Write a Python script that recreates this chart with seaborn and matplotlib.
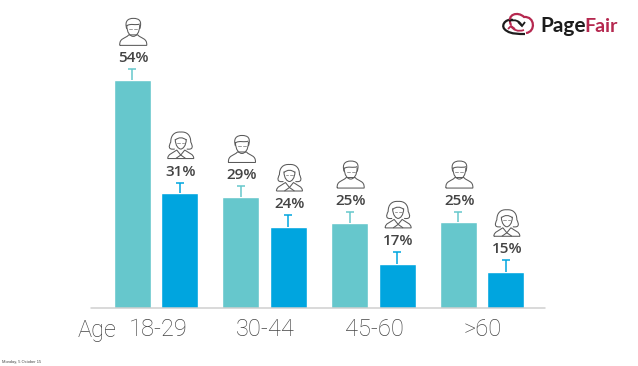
import matplotlib
matplotlib.use('Agg')
import matplotlib.pyplot as plt
import seaborn as sns
import pandas as pd
from matplotlib.path import Path
from matplotlib.patches import PathPatch

# bar heights are read off the picture, the axis does not start at 0
groups = ['18-29', '30-44', '45-60', '>60']
men = [54, 30.2, 25, 25.1]
women = [31, 24.2, 16.7, 15]
men_top = [56.2, 32.4, 27.2, 27.2]
women_top = [33.2, 26.6, 19.1, 17.4]
men_labels = ['54%', '29%', '25%', '25%']
women_labels = ['31%', '24%', '17%', '15%']

W, H = 638, 366
BASE = 308
UNIT = 108.7
y0 = 7.7
scale = 4.92

sns.set_style('white')
fig = plt.figure(figsize=(W / 100, H / 100), dpi=100)
ax = fig.add_axes([0, (H - BASE) / H, 1, BASE / H])

df = pd.DataFrame({
    'group': groups * 2,
    'sex': ['m'] * 4 + ['f'] * 4,
    'value': men + women,
})
sns.barplot(data=df, x='group', y='value', hue='sex', palette=['#66C7CC', '#00A5DF'],
            width=0.874, gap=0.22, legend=False, ax=ax, saturation=1)

ax.set_xlim(-156 / UNIT, (W - 156) / UNIT)
ax.set_ylim(y0, y0 + BASE / scale)
ax.axis('off')
bars = list(ax.patches)

# second axes in picture pixels for icons and text
px = fig.add_axes([0, 0, 1, 1])
px.set_xlim(0, W)
px.set_ylim(H, 0)
px.axis('off')
px.patch.set_alpha(0)
px.plot([91, 545], [BASE, BASE], color='#cfcfcf', lw=1.1, zorder=1)


def to_px(x, y):
    p = ax.transData.transform((x, y))
    return p[0], H - p[1]


def stroke(points, codes, c='#5a5a5a', lw=0.75):
    px.add_patch(PathPatch(Path(points, codes), fill=False, ec=c, lw=lw))


M, L, C = Path.MOVETO, Path.LINETO, Path.CURVE4


def draw_man(cx, cy):
    # face
    stroke([(cx - 6.5, cy - 7), (cx - 6.5, cy + 1), (cx - 3, cy + 4.5), (cx, cy + 4.5),
            (cx + 3, cy + 4.5), (cx + 6.5, cy + 1), (cx + 6.5, cy - 7)],
           [M, C, C, C, C, C, C])
    # hair
    stroke([(cx - 6.5, cy - 3), (cx - 9, cy - 11), (cx - 5, cy - 13.5), (cx, cy - 13.5),
            (cx + 6, cy - 13.5), (cx + 9, cy - 11), (cx + 6.5, cy - 3)],
           [M, C, C, C, C, C, C])
    stroke([(cx - 6.5, cy - 6), (cx - 3, cy - 9), (cx + 3, cy - 6), (cx + 6.5, cy - 8)],
           [M, C, C, C])
    # eyes
    px.plot([cx - 4, cx - 1], [cy - 3, cy - 3], color='#8a8a8a', lw=0.6)
    px.plot([cx + 1, cx + 4], [cy - 3, cy - 3], color='#8a8a8a', lw=0.6)
    # shoulders
    stroke([(cx - 13.5, cy + 13.5), (cx - 14, cy + 6), (cx - 8, cy + 7), (cx - 4.5, cy + 3),
            (cx + 4.5, cy + 3), (cx + 8, cy + 7), (cx + 14, cy + 6), (cx + 13.5, cy + 13.5),
            (cx - 13.5, cy + 13.5)],
           [M, C, C, C, L, C, C, C, L])


def draw_woman(cx, cy):
    # face
    stroke([(cx - 5.5, cy - 6), (cx - 5.5, cy + 1), (cx - 2, cy + 4), (cx, cy + 4),
            (cx + 2, cy + 4), (cx + 5.5, cy + 1), (cx + 5.5, cy - 6)],
           [M, C, C, C, C, C, C])
    # hair
    stroke([(cx - 6, cy + 4), (cx - 13, cy + 5), (cx - 12, cy + 1), (cx - 10, cy - 3),
            (cx - 10, cy - 10), (cx - 6, cy - 13.5), (cx, cy - 13),
            (cx + 6, cy - 13.5), (cx + 10, cy - 10), (cx + 10, cy - 3),
            (cx + 12, cy + 1), (cx + 13, cy + 5), (cx + 6, cy + 4)],
           [M, C, C, C, C, C, C, C, C, C, C, C, C])
    stroke([(cx - 5.5, cy - 5), (cx - 2, cy - 8), (cx + 2, cy - 8), (cx + 5.5, cy - 5)],
           [M, C, C, C])
    px.plot([cx - 3.5, cx - 1], [cy - 2.5, cy - 2.5], color='#8a8a8a', lw=0.6)
    px.plot([cx + 1, cx + 3.5], [cy - 2.5, cy - 2.5], color='#8a8a8a', lw=0.6)
    # shoulders and collar
    stroke([(cx - 13, cy + 13.5), (cx - 13, cy + 9), (cx - 8, cy + 8), (cx - 4, cy + 5),
            (cx, cy + 10), (cx + 4, cy + 5), (cx + 8, cy + 8), (cx + 13, cy + 9),
            (cx + 13, cy + 13.5), (cx - 13, cy + 13.5)],
           [M, C, C, C, L, L, C, C, C, L])
    stroke([(cx, cy + 10), (cx - 5, cy + 13.5)], [M, L])
    stroke([(cx, cy + 10), (cx + 5, cy + 13.5)], [M, L])


for i in range(len(groups)):
    for bar, top, val, lab, col, icon in [
        (bars[i], men_top[i], men[i], men_labels[i], '#66C7CC', draw_man),
        (bars[i + 4], women_top[i], women[i], women_labels[i], '#00A5DF', draw_woman),
    ]:
        xc = bar.get_x() + bar.get_width() / 2
        eb = ax.errorbar(xc, val, yerr=[[0], [top - val]], color=col, capsize=2.9,
                         elinewidth=1.1, capthick=1.1)
        eb[1][0].set_visible(False)
        x_px, y_px = to_px(xc, top)
        px.text(x_px + 1, y_px - 11, lab, ha='center', va='center', fontsize=11,
                fontweight='semibold', family='Open Sans', color='#444444')
        icon(x_px + 1, y_px - 37.5)

# age labels
label_font = dict(ha='center', va='center', fontsize=17, family='Roboto',
                  fontweight='light', color='#444444')
px.text(97, 330, 'Age', **label_font)
for g, cx in zip(groups, [158, 265.5, 374, 483]):
    px.text(cx, 330, g, **label_font)

px.text(2, 361.5, 'Monday, 5 October 15', ha='left', va='center', fontsize=2.9,
        family='Liberation Sans', color='#444444')

# logo
logo_font = dict(ha='left', va='center', fontweight='bold', family='Lato')
px.text(540, 26, 'Page', color='#1c1c1c', fontsize=15, **logo_font)
px.text(584, 26, 'Fair', color='#b5284f', fontsize=14, **logo_font)
stroke([(513, 20), (505, 18), (499, 27), (507, 31), (511, 34), (519, 34), (525, 34)],
       [M, C, C, C, C, C, C], c='#1c1c1c', lw=1.6)
stroke([(511, 25), (506, 14), (518, 11), (524, 17), (535, 16), (536, 32), (526, 33)],
       [M, C, C, C, C, C, C], c='#b5284f', lw=1.6)
stroke([(509, 21), (515, 19), (520, 21), (522, 26)], [M, C, C, C], c='#1c1c1c', lw=1.3)
stroke([(518, 22), (522, 26), (525, 22)], [M, L, L], c='#1c1c1c', lw=1.3)
stroke([(524, 30), (518, 32), (513, 30), (511, 26)], [M, C, C, C], c='#b5284f', lw=1.3)
stroke([(508, 29), (511, 26), (515, 29)], [M, L, L], c='#b5284f', lw=1.3)

fig.savefig('out.png', dpi=100)
